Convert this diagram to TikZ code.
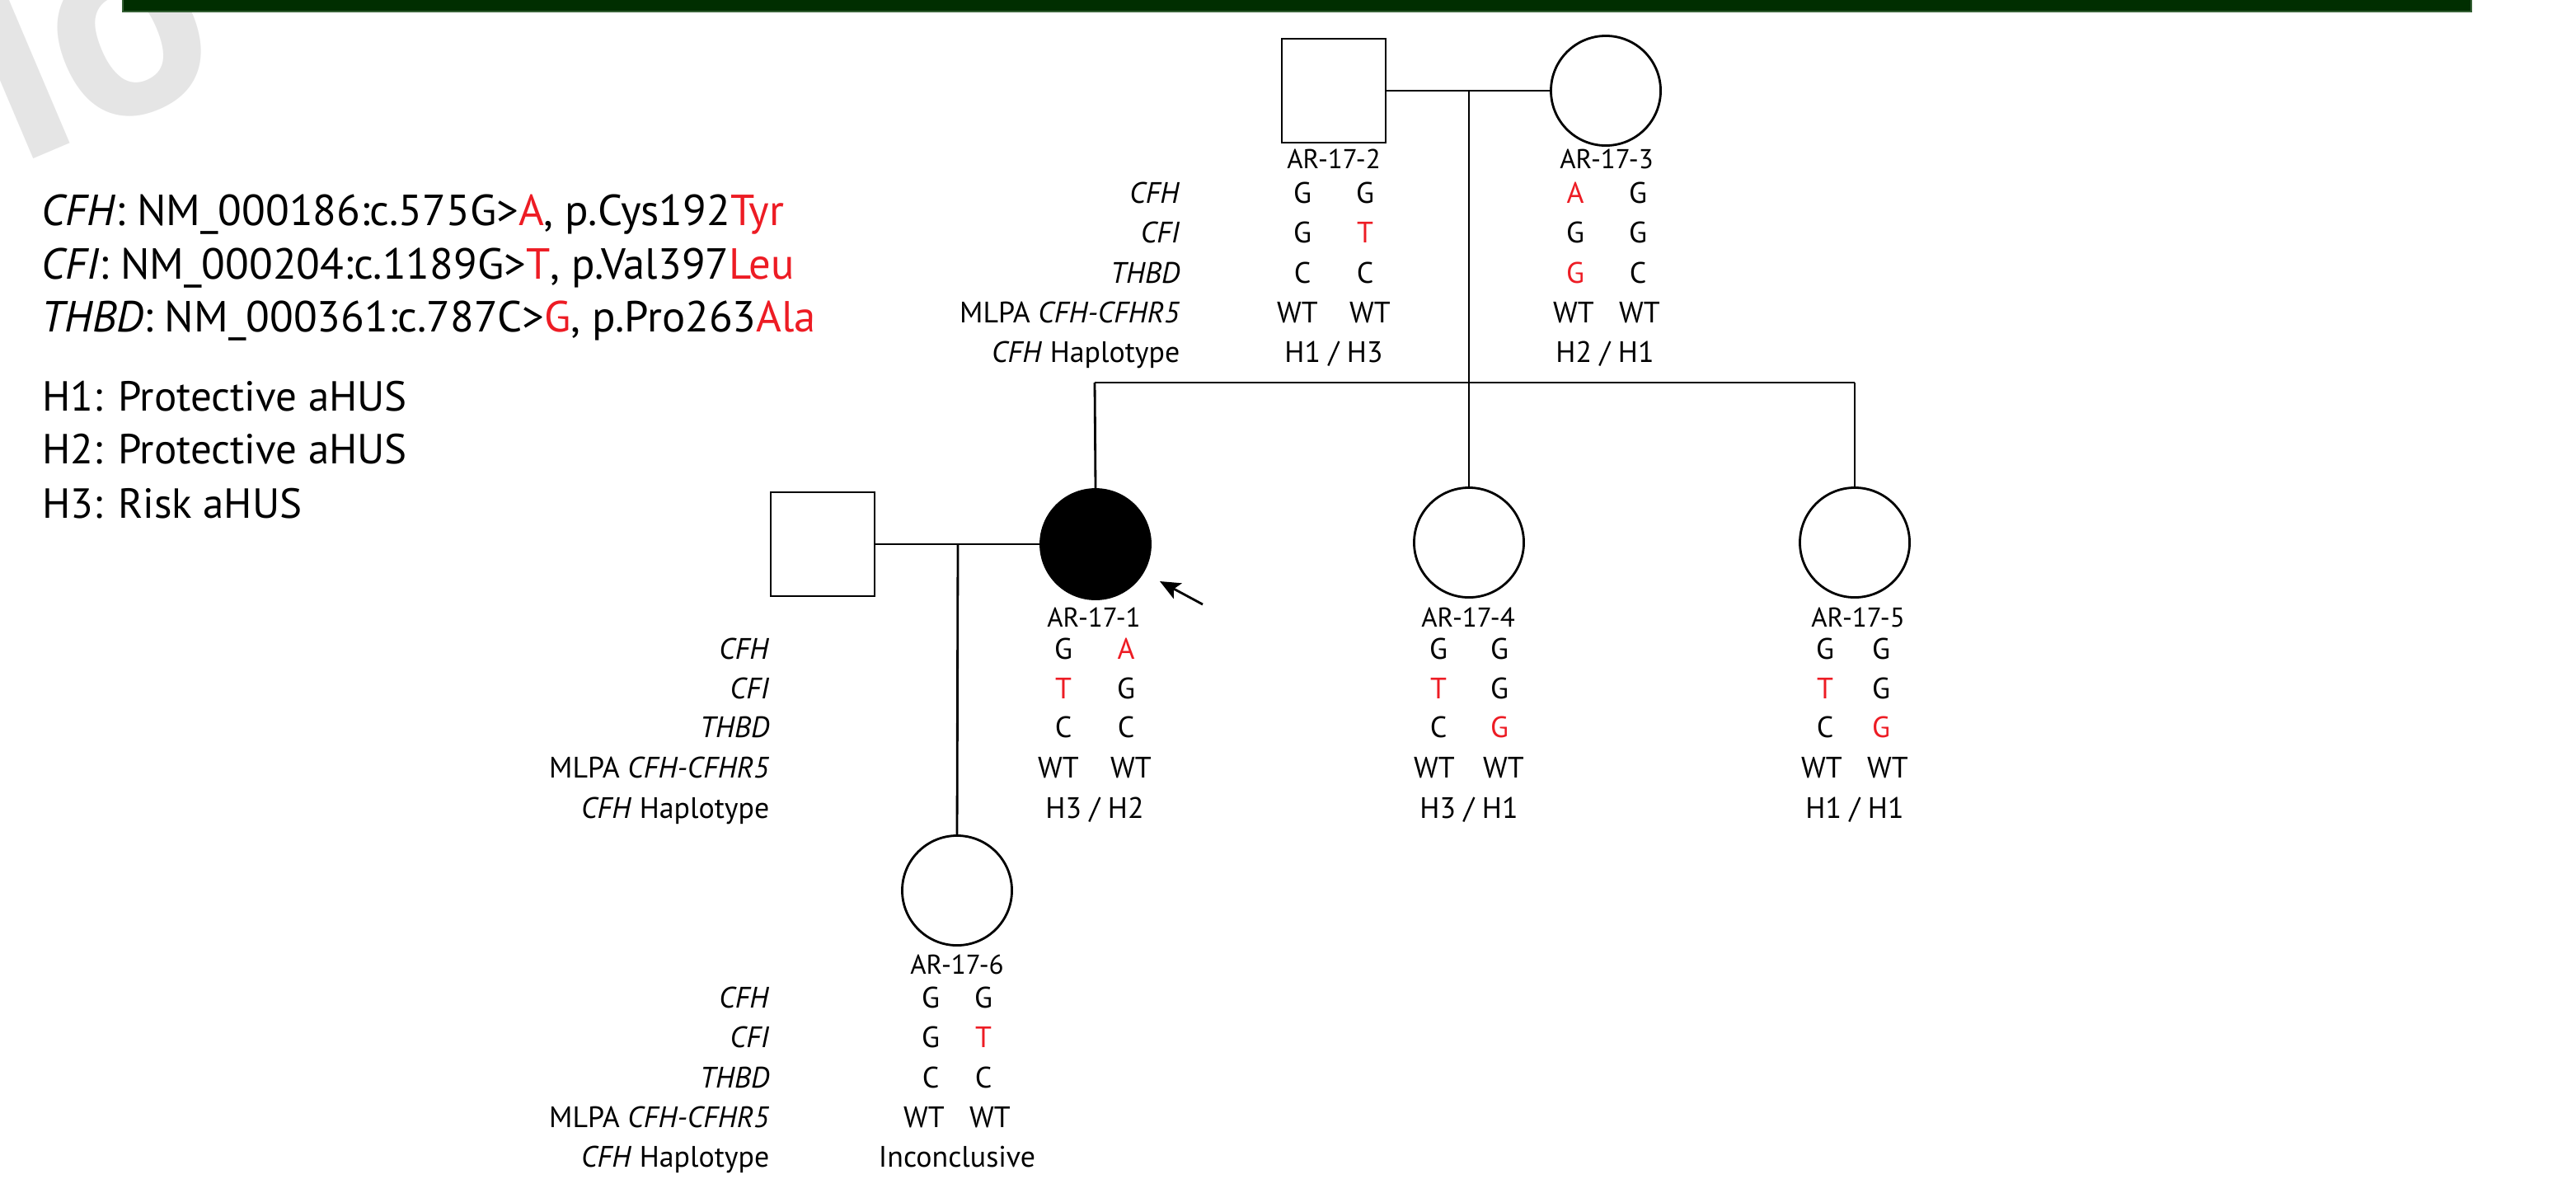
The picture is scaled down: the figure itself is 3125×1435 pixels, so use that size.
\documentclass[tikz,border=0pt]{standalone}
\usepackage{fontspec}
\setmainfont{PT Sans}
\usetikzlibrary{arrows.meta}
\definecolor{bannergreen}{RGB}{0,46,0}
\definecolor{bannerrim}{RGB}{52,96,52}
\definecolor{mut}{RGB}{237,28,36}
\definecolor{wmark}{RGB}{229,229,229}
\newcommand\mut[1]{\textcolor{mut}{#1}}
% one row of a genotype: two alleles placed symmetrically about cx
\newcommand\gtrow[6]{%
  \node[geno] (#1a) at (#2-#4,#3) {#5};
  \node[geno] (#1b) at (#2+#4,#3) {#6};}
\begin{document}
\begin{tikzpicture}[x=0.01cm,y=-0.01cm,
  person/.style={draw=black, line width=0.8pt, inner sep=0pt, outer sep=0pt},
  male/.style={person, rectangle, minimum size=1.26cm},
  female/.style={person, circle, minimum size=1.33cm},
  affected/.style={fill=black},
  link/.style={draw=black, line width=0.8pt},
  pid/.style={font=\fontsize{9.4}{11}\selectfont, anchor=base, inner sep=0pt},
  geno/.style={font=\fontsize{10.2}{12}\selectfont, anchor=base, inner sep=0pt},
  gene/.style={geno, anchor=base east},
  varline/.style={font=\fontsize{15}{18}\selectfont, anchor=base west, inner sep=0pt},
  hapline/.style={font=\fontsize{14.5}{17}\selectfont, anchor=base west, inner sep=0pt},
]
\useasboundingbox (0,0) rectangle (3125,1435);

% faint watermark
\begin{scope}
\clip (0,0) rectangle (3125,1435);
\node[font=\fontsize{100}{100}\selectfont\bfseries, text=wmark, rotate=23,
      anchor=base west, inner sep=0pt] (wm) at (-155,276) {Mo};
\end{scope}

% title banner
\path[fill=bannergreen, draw=bannerrim, line width=0.6pt] (149,-5) rectangle (2998,14);

% variant legend
\node[varline] (v1) at (50,273) {\textit{CFH}: NM\_000186:c.575G>\mut{A}, p.Cys192\mut{Tyr}};
\node[varline] (v2) at (50,338) {\textit{CFI}: NM\_000204:c.1189G>\mut{T}, p.Val397\mut{Leu}};
\node[varline] (v3) at (50,402) {\textit{THBD}: NM\_000361:c.787C>\mut{G}, p.Pro263\mut{Ala}};
\node[hapline] (h1) at (51,498) {H1: Protective aHUS};
\node[hapline] (h2) at (51,562) {H2: Protective aHUS};
\node[hapline] (h3) at (51,628) {H3: Risk aHUS};

% individuals
\node[male] (p2) at (1618,110) {};
\node[female] (p3) at (1948,110) {};
\node[male] (pH) at (998,660) {};
\node[female, affected] (p1) at (1329,660) {};
\node[female] (p4) at (1782,658) {};
\node[female] (p5) at (2250,658) {};
\node[female] (p6) at (1161,1080) {};

% couple and sibship lines
\coordinate (c1) at (1782,110);
\coordinate (sL) at (1328,464);
\coordinate (sM) at (1782,464);
\coordinate (sR) at (2250,464);
\coordinate (c2) at (1162,660);
\path[link] (p2.east) -- (p3.west);
\path[link] (c1) -- (sM);
\path[link] (sL) -- (sR);
\path[link] (sL) -- (p1.north);
\path[link] (sM) -- (p4.north);
\path[link] (sR) -- (p5.north);
\path[link] (pH.east) -- (p1.west);
\path[link] (c2) -- (p6.north);

% proband arrow
\coordinate (arrTail) at (1459,733);
\coordinate (arrTip) at (1407,705);
\draw[line width=0.8pt, -{Stealth[length=7pt,width=6pt,inset=1.5pt]}] (arrTail) -- (arrTip);

% ---- first generation ----
\node[gene] (g1cfh) at (1432,246) {\textit{CFH}};
\node[gene] (g1cfi) at (1432,294) {\textit{CFI}};
\node[gene] (g1thbd) at (1432,343) {\textit{THBD}};
\node[gene] (g1mlpa) at (1432,391) {MLPA \textit{CFH-CFHR5}};
\node[gene] (g1hap) at (1432,439) {\textit{CFH} Haplotype};

\node[pid] (p2id) at (1618,204) {AR-17-2};
\gtrow{p2cfh}{1618}{246}{38}{G}{G}
\gtrow{p2cfi}{1618}{294}{38}{G}{\mut{T}}
\gtrow{p2thbd}{1618}{343}{38}{C}{C}
\gtrow{p2mlpa}{1618}{391}{44}{WT}{WT}
\node[geno] (p2hap) at (1618,439) {H1 / H3};

\node[pid] (p3id) at (1949,204) {AR-17-3};
\gtrow{p3cfh}{1949}{246}{38}{\mut{A}}{G}
\gtrow{p3cfi}{1949}{294}{38}{G}{G}
\gtrow{p3thbd}{1949}{343}{38}{\mut{G}}{C}
\gtrow{p3mlpa}{1949}{391}{40}{WT}{WT}
\node[geno] (p3hap) at (1947,439) {H2 / H1};

% ---- second generation ----
\node[gene] (g2cfh) at (934,799) {\textit{CFH}};
\node[gene] (g2cfi) at (934,847) {\textit{CFI}};
\node[gene] (g2thbd) at (934,894) {\textit{THBD}};
\node[gene] (g2mlpa) at (934,943) {MLPA \textit{CFH-CFHR5}};
\node[gene] (g2hap) at (934,992) {\textit{CFH} Haplotype};

\node[pid] (p1id) at (1327,760) {AR-17-1};
\gtrow{p1cfh}{1328}{799}{38}{G}{\mut{A}}
\gtrow{p1cfi}{1328}{847}{38}{\mut{T}}{G}
\gtrow{p1thbd}{1328}{894}{38}{C}{C}
\gtrow{p1mlpa}{1328}{943}{44}{WT}{WT}
\node[geno] (p1hap) at (1328,992) {H3 / H2};

\node[pid] (p4id) at (1781,760) {AR-17-4};
\gtrow{p4cfh}{1782}{799}{37}{G}{G}
\gtrow{p4cfi}{1782}{847}{37}{\mut{T}}{G}
\gtrow{p4thbd}{1782}{894}{37}{C}{\mut{G}}
\gtrow{p4mlpa}{1782}{943}{42}{WT}{WT}
\node[geno] (p4hap) at (1782,992) {H3 / H1};

\node[pid] (p5id) at (2254,760) {AR-17-5};
\gtrow{p5cfh}{2248}{799}{34}{G}{G}
\gtrow{p5cfi}{2248}{847}{34}{\mut{T}}{G}
\gtrow{p5thbd}{2248}{894}{34}{C}{\mut{G}}
\gtrow{p5mlpa}{2250}{943}{40}{WT}{WT}
\node[geno] (p5hap) at (2250,992) {H1 / H1};

% ---- third generation ----
\node[gene] (g3cfh) at (934,1222) {\textit{CFH}};
\node[gene] (g3cfi) at (934,1270) {\textit{CFI}};
\node[gene] (g3thbd) at (934,1319) {\textit{THBD}};
\node[gene] (g3mlpa) at (934,1367) {MLPA \textit{CFH-CFHR5}};
\node[gene] (g3hap) at (934,1415) {\textit{CFH} Haplotype};

\node[pid] (p6id) at (1161,1181) {AR-17-6};
\gtrow{p6cfh}{1161}{1222}{32}{G}{G}
\gtrow{p6cfi}{1161}{1270}{32}{G}{\mut{T}}
\gtrow{p6thbd}{1161}{1319}{32}{C}{C}
\gtrow{p6mlpa}{1161}{1367}{40}{WT}{WT}
\node[geno] (p6hap) at (1161,1415) {Inconclusive};
\end{tikzpicture}
\end{document}
